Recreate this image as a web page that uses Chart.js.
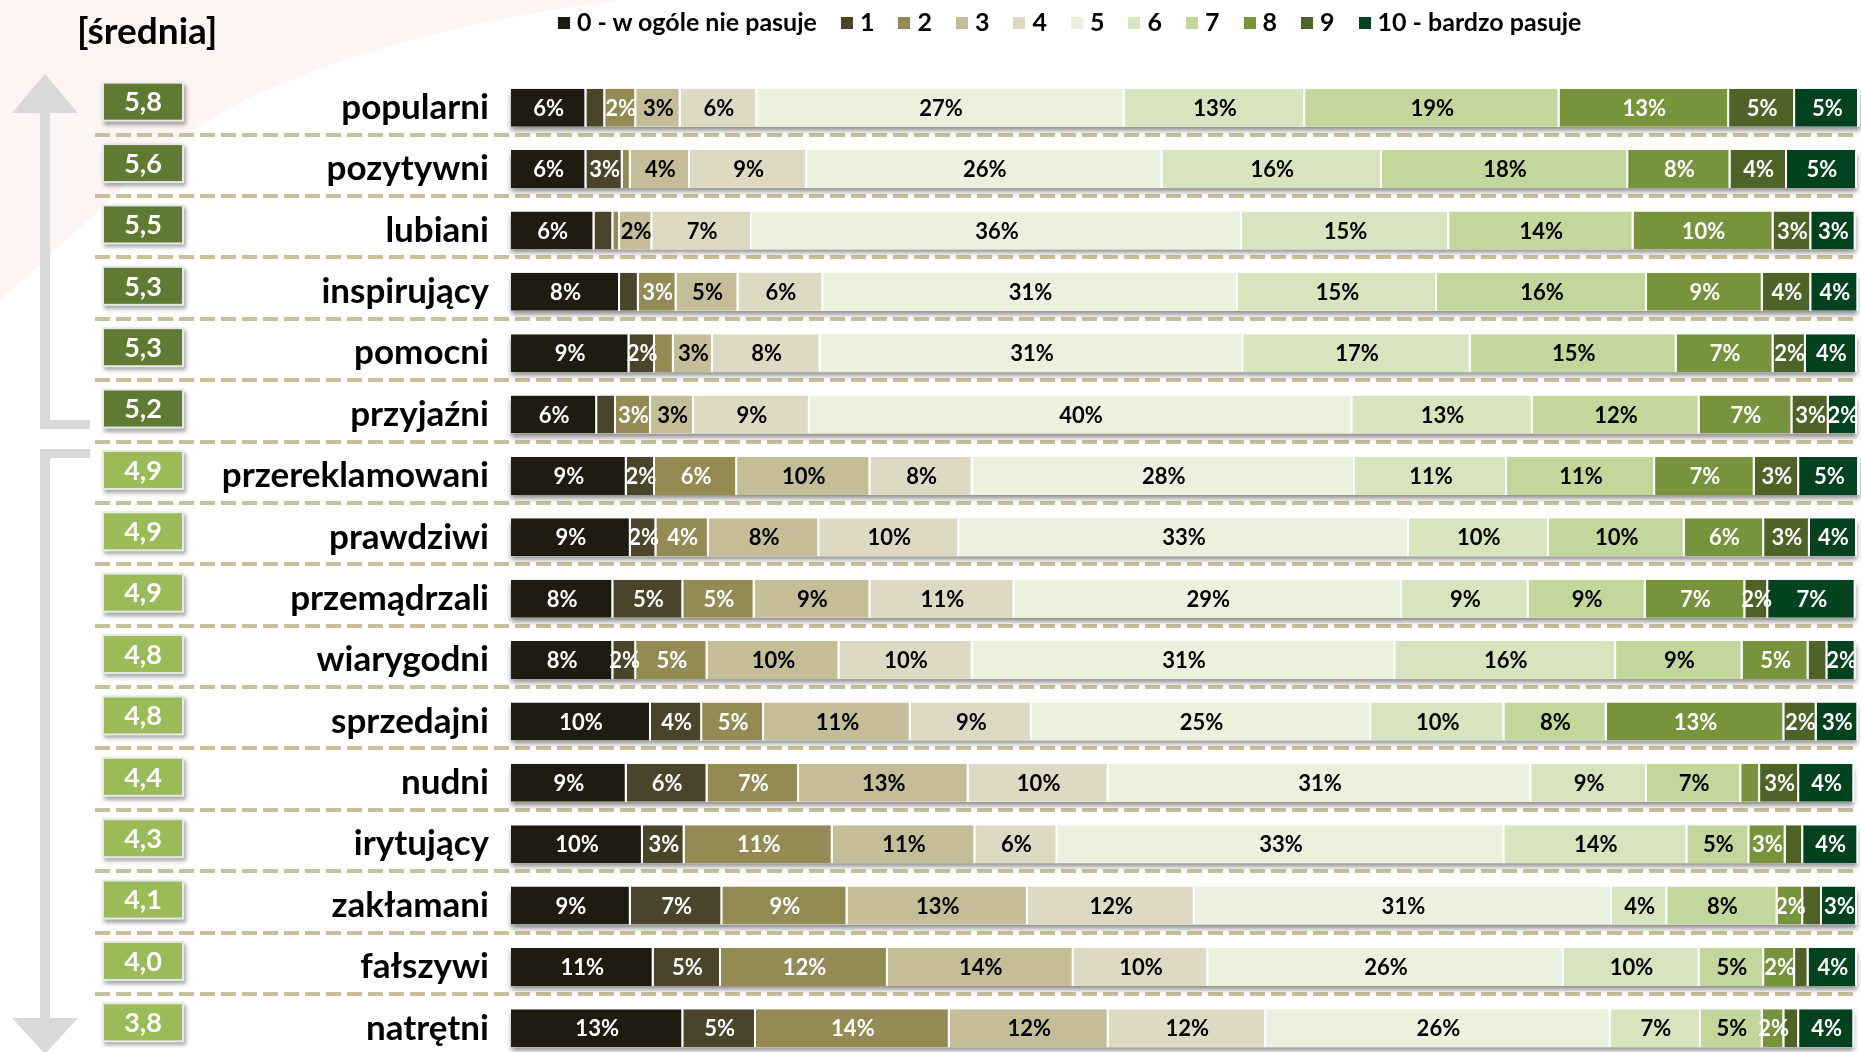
<!DOCTYPE html>
<html>
<head>
<meta charset="utf-8">
<script src="https://cdn.jsdelivr.net/npm/chart.js@4.4.0/dist/chart.umd.min.js"></script>
<style>
html, body { margin: 0; padding: 0; background: #fff; overflow: hidden; }
#wrap { position: relative; width: 1861px; height: 1052px; overflow: hidden; }
#myChart { position: absolute; left: 0; top: 0; }
#title { position: absolute; left: 77px; top: 7px; font: bold 37px Lato, sans-serif; color: #000; }
#legend { position: absolute; left: 558px; top: 6px; display: flex; align-items: center; font: bold 25px Lato, sans-serif; color: #000; white-space: nowrap; }
#legend .item { display: flex; align-items: center; margin-right: 24px; }
#legend .box { display: inline-block; width: 12px; height: 12px; margin-right: 7px; margin-top: 4px; }
</style>
</head>
<body>
<div id="wrap">
    <canvas id="myChart" width="1861" height="1080"></canvas>
    <div id="title">[średnia]</div>
    <div id="legend"></div>
</div>
<script>
// dane
var rows = ['popularni', 'pozytywni', 'lubiani', 'inspirujący', 'pomocni', 'przyjaźni', 'przereklamowani', 'prawdziwi',
    'przemądrzali', 'wiarygodni', 'sprzedajni', 'nudni', 'irytujący', 'zakłamani', 'fałszywi', 'natrętni'];
var means = ['5,8', '5,6', '5,5', '5,3', '5,3', '5,2', '4,9', '4,9', '4,9', '4,8', '4,8', '4,4', '4,3', '4,1', '4,0', '3,8'];
var seriesNames = ['0 - w ogóle nie pasuje', '1', '2', '3', '4', '5', '6', '7', '8', '9', '10 - bardzo pasuje'];

var v0  = [5.6, 5.6, 6.2, 8.1, 8.8, 6.4, 8.6, 8.9, 7.6, 7.6, 10.4, 8.6, 9.8, 8.9, 10.6, 12.8];
var v1  = [1.4, 2.7, 1.4, 1.4, 1.9, 1.4, 2.1, 1.9, 5.2, 1.7, 3.8, 6.0, 3.1, 6.8, 5.0, 5.4];
var v2  = [2.3, 0.6, 0.5, 2.8, 1.4, 2.6, 6.1, 3.9, 5.3, 5.3, 4.6, 6.8, 11.0, 9.3, 12.4, 14.4];
var v3  = [3.3, 4.4, 2.4, 4.6, 2.9, 3.2, 9.9, 8.2, 8.6, 9.8, 10.9, 12.6, 10.6, 13.4, 13.8, 11.8];
var v4  = [5.7, 8.7, 7.4, 6.3, 8.0, 8.6, 7.6, 10.4, 10.7, 9.9, 9.0, 10.4, 6.1, 12.4, 10.0, 11.7];
var v5  = [27.3, 26.4, 36.4, 30.8, 31.4, 40.3, 28.4, 33.4, 28.8, 31.4, 25.2, 31.4, 33.2, 31.0, 26.4, 25.6];
var v6  = [13.4, 16.3, 15.4, 14.8, 16.9, 13.4, 11.3, 10.4, 9.4, 16.4, 9.9, 8.6, 13.6, 4.1, 10.1, 6.7];
var v7  = [18.9, 18.3, 13.7, 15.6, 15.3, 12.4, 11.0, 10.1, 8.7, 9.4, 7.6, 7.0, 4.6, 8.2, 4.8, 4.6];
var v8  = [12.6, 7.6, 10.4, 8.6, 7.2, 6.9, 7.4, 5.9, 7.4, 4.9, 13.2, 1.4, 2.7, 1.9, 2.3, 1.6];
var v9  = [4.9, 4.2, 2.8, 3.6, 2.4, 2.7, 3.3, 3.4, 1.7, 1.4, 2.4, 2.9, 1.3, 1.4, 1.0, 1.1];
var v10 = [4.8, 5.2, 3.3, 3.5, 3.8, 2.1, 4.5, 3.5, 6.5, 2.1, 3.1, 4.1, 4.1, 2.6, 3.6, 4.1];

var values = [v0, v1, v2, v3, v4, v5, v6, v7, v8, v9, v10];
var colors = ['#1e1c11', '#4a452a', '#948a54', '#c4bd97', '#ddd9c3', '#ebf1de', '#d7e4bd', '#c3d69b', '#77933c', '#4f6228', '#03421f'];
var labelColors = ['#fff', '#fff', '#fff', '#000', '#000', '#000', '#000', '#000', '#fff', '#fff', '#fff'];

// legenda html
var legendHtml = '';
seriesNames.forEach(function (name, i) {
    legendHtml += '<span class="item"><span class="box" style="background:' + colors[i] + '"></span>' + name + '</span>';
});
document.getElementById('legend').innerHTML = legendHtml;

/*---------------------------pluginy------------------------*/

var decorPlugin = {
    id: 'decor',
    beforeDraw: function (chart) {
        var c = chart.ctx;
        var yScale = chart.scales.y;
        var area = chart.chartArea;
        c.save();

        // tlo - delikatny róż w rogu
        c.fillStyle = '#fdf4f4';
        c.beginPath();
        c.moveTo(0, 0);
        c.lineTo(620, 0);
        c.quadraticCurveTo(240, 50, 110, 200);
        c.lineTo(0, 300);
        c.closePath();
        c.fill();

        // strzalki
        c.fillStyle = '#d9d9d9';
        c.beginPath();
        c.moveTo(45, 74);
        c.lineTo(78, 113);
        c.lineTo(12, 113);
        c.closePath();
        c.fill();
        c.fillRect(40, 112, 10, 316);
        c.fillRect(40, 420, 50, 9);

        c.fillRect(40, 449, 50, 9);
        c.fillRect(40, 449, 10, 572);
        c.beginPath();
        c.moveTo(12, 1018);
        c.lineTo(78, 1018);
        c.lineTo(45, 1054);
        c.closePath();
        c.fill();

        // przerywane linie
        c.strokeStyle = '#c9c09b';
        c.lineWidth = 4;
        c.setLineDash([15, 6]);
        for (var i = 0; i < rows.length - 1; i++) {
            var y = Math.round(yScale.getPixelForValue(i)) + 27;
            c.beginPath();
            c.moveTo(95, y);
            c.lineTo(area.right, y);
            c.stroke();
        }
        c.restore();
    },
    beforeDatasetsDraw: function (chart) {
        // cien pod paskami
        var c = chart.ctx;
        var last = chart.getDatasetMeta(values.length - 1);
        var x0 = chart.scales.x.getPixelForValue(0);
        c.save();
        c.shadowColor = 'rgba(0,0,0,0.45)';
        c.shadowBlur = 5;
        c.shadowOffsetY = 4;
        c.fillStyle = '#fff';
        last.data.forEach(function (bar) {
            var p = bar.getProps(['x', 'y', 'height'], true);
            c.fillRect(x0, p.y - p.height / 2, p.x - x0, p.height);
        });
        c.restore();
    },
    afterDatasetsDraw: function (chart) {
        var c = chart.ctx;
        c.save();
        c.font = 'bold 22px Lato';
        c.textAlign = 'center';
        c.textBaseline = 'middle';
        chart.data.datasets.forEach(function (ds, i) {
            var meta = chart.getDatasetMeta(i);
            meta.data.forEach(function (bar, j) {
                var v = ds.data[j];
                if (v < 1.5) return;
                var p = bar.getProps(['x', 'y', 'base'], true);
                c.fillStyle = labelColors[i];
                c.fillText(Math.round(v) + '%', (p.x + p.base) / 2, p.y + 1);
            });
        });
        c.restore();
    },
    afterDraw: function (chart) {
        // srednie
        var c = chart.ctx;
        var yScale = chart.scales.y;
        c.save();
        means.forEach(function (m, i) {
            var cy = yScale.getPixelForValue(i) - 6;
            c.save();
            c.shadowColor = 'rgba(0,0,0,0.35)';
            c.shadowBlur = 4;
            c.shadowOffsetX = 2;
            c.shadowOffsetY = 3;
            c.fillStyle = '#e8e8e8';
            c.fillRect(102, cy - 20, 82, 40);
            c.restore();
            c.fillStyle = i < 6 ? '#617a33' : '#9bbb59';
            c.fillRect(104, cy - 18, 78, 36);
            c.fillStyle = '#fff';
            c.font = 'bold 27px Lato';
            c.textAlign = 'center';
            c.textBaseline = 'middle';
            c.fillText(m, 143, cy + 1);
        });
        c.restore();
    }
};

/*---------------------------chart------------------------*/

var datasets = values.map(function (arr, i) {
    return {
        label: seriesNames[i],
        data: arr,
        backgroundColor: colors[i],
        borderColor: '#ffffff',
        borderWidth: { top: 0, right: 2, bottom: 0, left: 0 },
        borderSkipped: false,
        barPercentage: 0.62,
        categoryPercentage: 1
    };
});

var ctx = document.getElementById('myChart').getContext('2d');

new Chart(ctx, {
    type: 'bar',
    data: {
        labels: rows,
        datasets: datasets
    },
    options: {
        indexAxis: 'y',
        responsive: false,
        animation: false,
        layout: {
            padding: { top: 77, bottom: 21, left: 0, right: 4 }
        },
        plugins: {
            legend: { display: false },
            tooltip: { enabled: false }
        },
        scales: {
            x: {
                stacked: true,
                min: 0,
                max: 100,
                display: false
            },
            y: {
                stacked: true,
                grid: { display: false, drawTicks: false },
                border: { display: false },
                ticks: {
                    color: '#000',
                    padding: 22,
                    font: { family: 'Lato', weight: 'bold', size: 35 }
                },
                afterFit: function (scale) {
                    scale.width = 511;
                    scale.paddingTop = 0;
                    scale.paddingBottom = 0;
                }
            }
        }
    },
    plugins: [decorPlugin]
});
</script>
</body>
</html>
